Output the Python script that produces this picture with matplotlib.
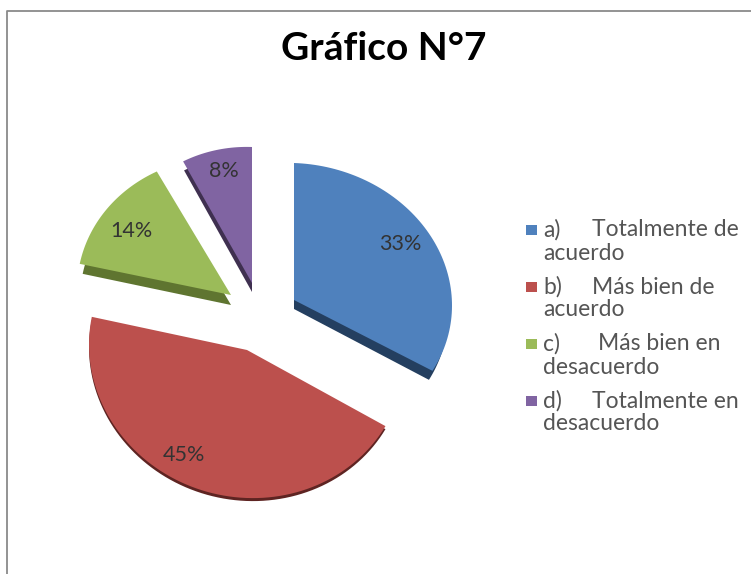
import numpy as np
import matplotlib
matplotlib.use('Agg')
import matplotlib.pyplot as plt
from matplotlib.patches import Rectangle, Polygon

plt.rcParams['font.family'] = ['Lato', 'DejaVu Sans']

title = 'Gráfico N°7'
values = [33, 45, 14, 8]
labels = ['33%', '45%', '14%', '8%']
colors = ['#4F81BD', '#BC504D', '#9BBB59', '#8064A2']
sides = ['#243F60', '#5E2422', '#5F7530', '#3F3050']
legend_keys = ['a)', 'b)', 'c)', 'd)']
legend_first = ['Totalmente de', 'Más bien de', 'Más bien en', 'Totalmente en']
legend_second = ['acuerdo', 'acuerdo', 'desacuerdo', 'desacuerdo']

W, H = 751, 574
fig = plt.figure(figsize=(W / 100, H / 100), dpi=100)
ax = fig.add_axes([0, 0, 1, 1])
ax.set_xlim(0, W)
ax.set_ylim(H, 0)
ax.axis('off')

# chart frame, cut off at the bottom of the image
ax.plot([7, 7, 751], [H, 11, 11], color='#8a8a8a', lw=1.3)

ax.text(384, 49, title, fontsize=28, fontweight='bold', ha='center', va='center', color='black')

# each slice has its own apex and radii, the reference is a 3D pie in perspective
apex = [(294, 300), (247, 350), (231, 295), (252, 283)]
radii = [(158, 137), (158, 148), (154, 138), (143, 136)]
depth = [9, 3, 10, 9]
side_shrink = [4, 0, 3, 2]
shear = 0.035
label_pos = [(400, 244), (184, 455), (131, 231), (224, 171)]

start = 90.0
total = sum(values)
for i, v in enumerate(values):
    end = start - v / total * 360
    t = np.radians(np.linspace(start, end, 80))
    ox, oy = apex[i]
    rx, ry = radii[i]
    dx = np.r_[0, rx * np.cos(t)]
    dy = np.r_[0, -ry * np.sin(t)] + shear * dx
    # side wall sits under the top face, pulled in a little so only the cut edge shows
    sx = dx * (rx - side_shrink[i]) / rx
    ax.add_patch(Polygon(np.column_stack([ox + sx, oy + dy + depth[i]]), closed=True,
                         color=sides[i], lw=0, zorder=2))
    ax.add_patch(Polygon(np.column_stack([ox + dx, oy + dy]), closed=True,
                         color=colors[i], lw=0, zorder=3))
    ax.text(label_pos[i][0], label_pos[i][1], labels[i], fontsize=15.5,
            ha='center', va='center', color='#333333', zorder=4)
    start = end

# legend
legend_y = [230, 287, 344, 401]
body_x = [592, 592, 598, 592]
for y, col, key, first, second, bx in zip(legend_y, colors, legend_keys, legend_first, legend_second, body_x):
    ax.add_patch(Rectangle((526, y - 5), 11, 10, color=col, lw=0))
    ax.text(543, y, key, fontsize=16.5, ha='left', va='center', color='#555555')
    ax.text(bx, y, first, fontsize=16.5, ha='left', va='center', color='#555555')
    ax.text(543, y + 23, second, fontsize=16.5, ha='left', va='center', color='#555555')

fig.savefig('out.png', dpi=100)
